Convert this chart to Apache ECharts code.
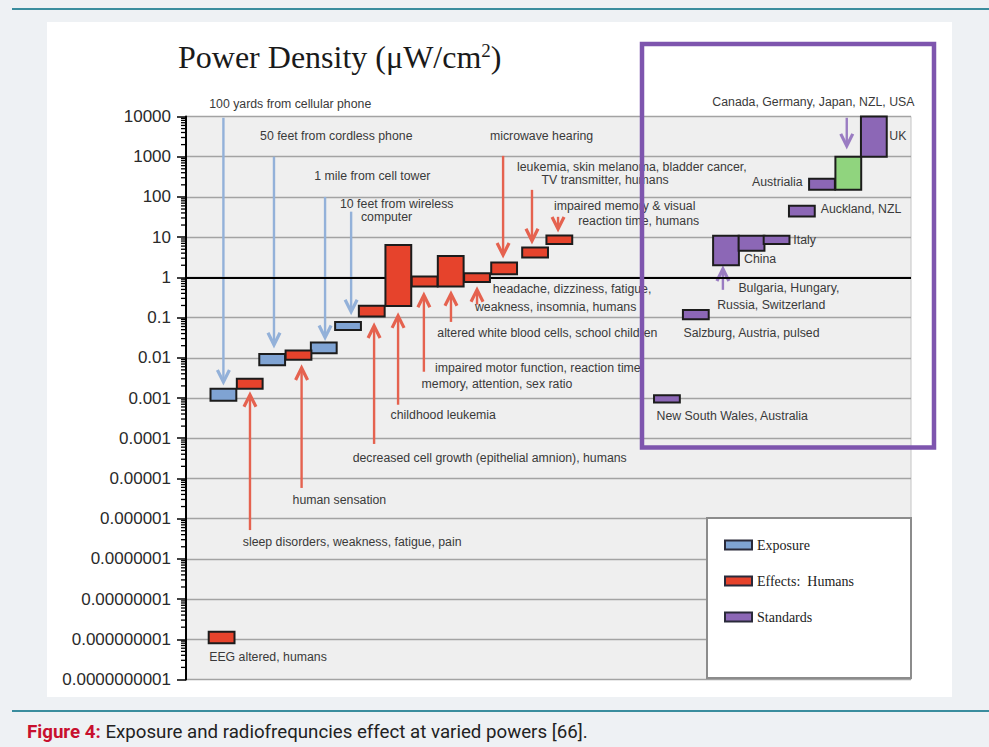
<!DOCTYPE html>
<html><head><meta charset="utf-8">
<script src="https://cdn.jsdelivr.net/npm/echarts@6/dist/echarts.min.js"></script>
<style>
html,body{margin:0;padding:0;background:#eef1f4;width:989px;height:747px;overflow:hidden;}
#rule1{position:absolute;left:12px;top:8px;width:977px;height:2px;background:#3a8d9e;}
#rule2{position:absolute;left:12px;top:710px;width:977px;height:2px;background:#3a8d9e;}
#chart{position:absolute;left:47px;top:22px;width:905px;height:675px;background:#fff;}
#cap{position:absolute;left:27px;top:721px;font:18.7px Roboto,"Liberation Sans",sans-serif;color:#222;white-space:nowrap;}
#cap b{color:#c8102e;}
</style></head><body>
<div id="rule1"></div><div id="chart"></div><div id="rule2"></div>
<div id="cap"><b>Figure 4:</b> Exposure and radiofrequncies effect at varied powers [66].</div>
<script>
// ---- data ----
const yTickLabels = ['0.0000000001','0.000000001','0.00000001','0.0000001','0.000001','0.00001','0.0001','0.001','0.01','0.1','1','10','100','1000','10000'];

const exposureNames = ['100 yards from cellular phone','50 feet from cordless phone','1 mile from cell tower','10 feet from wireless computer'];
const exposureX    = [1.45, 3.34, 5.34, 6.28];
const exposureLow  = [0.00085, 0.0065, 0.013, 0.049];
const exposureHigh = [0.0017, 0.0125, 0.024, 0.078];

const effectsNames = ['EEG altered','sleep disorders','human sensation','decreased cell growth','childhood leukemia','impaired motor function','altered white blood cells','headache, dizziness','microwave hearing','leukemia, skin melanoma','impaired memory'];
const effectsX    = [1.38, 2.47, 4.36, 7.20, 8.23, 9.25, 10.26, 11.28, 12.33, 13.53, 14.47];
const effectsLow  = [8e-10, 0.0017, 0.009, 0.106, 0.195, 0.59, 0.59, 0.77, 1.2, 3.1, 6.8];
const effectsHigh = [1.55e-9, 0.003, 0.0151, 0.198, 6.4, 1.05, 3.4, 1.27, 2.33, 5.5, 11];

const standardsNames = ['New South Wales, Australia','Salzburg, Austria','Bulgaria, Hungary, Russia, Switzerland','China','Italy','Auckland, NZL','Austrialia','Canada, Germany, Japan, NZL, USA','UK'];
const standardsX    = [18.64, 19.76, 20.93, 21.92, 22.89, 23.87, 24.65, 25.67, 26.66];
const standardsLow  = [0.00077, 0.091, 2.0, 4.6, 6.8, 32.5, 150, 150, 1000];
const standardsHigh = [0.00117, 0.155, 10.8, 10.8, 10.8, 60, 283, 1000, 10000];
const highlightIndex = 7; // green box

// annotations (text, x position on hidden axis, y value, alignment)
const noteText = ['100 yards from cellular phone','50 feet from cordless phone','1 mile from cell tower','10 feet from wireless','computer',
  'sleep disorders, weakness, fatigue, pain','human sensation','decreased cell growth (epithelial amnion), humans','childhood leukemia',
  'impaired motor function, reaction time','memory, attention, sex ratio','altered white blood cells, school children',
  'headache, dizziness, fatigue,','weakness, insomnia, humans','microwave hearing','leukemia, skin melanoma, bladder cancer,','TV transmitter, humans',
  'impaired memory & visual','reaction time, humans','EEG altered, humans',
  'Canada, Germany, Japan, NZL, USA','UK','Austrialia','Auckland, NZL','Italy','China','Bulgaria, Hungary,','Russia, Switzerland',
  'Salzburg, Austria, pulsed','New South Wales, Australia'];
const noteX = [0.9, 2.87, 4.97, 5.97, 6.78,
  2.2, 4.13, 6.46, 7.93,
  9.65, 9.13, 9.74,
  11.89, 11.2, 11.78, 12.83, 13.78,
  14.26, 15.2, 0.9,
  20.4, 27.26, 23.9, 24.6, 23.54, 21.63, 21.41, 20.59,
  19.28, 18.24];
const noteY = [2.1e4, 3300, 330, 67, 32,
  2.7e-7, 2.9e-6, 3.2e-5, 3.8e-4,
  5.5e-3, 2.24e-3, 0.041,
  0.51, 0.187, 3300, 570, 268,
  58, 25.5, 3.6e-10,
  2.3e4, 3200, 240, 50, 8.5, 2.8, 0.54, 0.21,
  0.041, 3.5e-4];
const noteAlign = noteText.map(t => t === 'Austrialia' ? 'right' : 'left');

// arrows (x, from value, to value, kind: 0 exposure, 1 effects, 2 standards)
const arrowX    = [1.45, 3.41, 5.39, 6.4, 2.48, 4.48, 7.29, 8.22, 9.22, 10.27, 11.28, 12.29, 13.41, 14.42, 25.61, 20.81];
const arrowFrom = [9300, 1000, 100, 43, 5.2e-7, 5.8e-6, 7.2e-5, 6.8e-4, 4.5e-3, 0.078, 0.21, 1050, 150, 32, 9300, 0.49];
const arrowTo   = [2.5e-3, 0.021, 0.032, 0.14, 1.2e-3, 5.6e-3, 0.062, 0.11, 0.36, 0.39, 0.49, 3.6, 8.1, 16, 1860, 1.62];
const arrowKind = [0,0,0,0,1,1,1,1,1,1,1,1,1,1,2,2];

// ---- styles ----
const C_BLUE = '#7fa3d3', C_RED = '#e6432c', C_PURPLE = '#8c67b6', C_GREEN = '#90d47e';
const ARROW_COLORS = ['#93b1d9', '#e5624f', '#9a7cc2'];
const SANS = '"Liberation Sans", Arial, sans-serif';
const SERIF = '"Liberation Serif", "Times New Roman", serif';

function renderBox(params, api) {
  const c = api.value(0), lo = api.value(1), hi = api.value(2);
  const a = api.coord([c - 0.5, hi]), b = api.coord([c + 0.5, lo]);
  return { type: 'rect', shape: { x: a[0], y: a[1], width: b[0] - a[0], height: b[1] - a[1] },
    style: { fill: api.visual('color'), stroke: '#1c1c1c', lineWidth: 2 } };
}
function renderArrow(params, api) {
  const x = api.value(0);
  const p0 = api.coord([x, api.value(1)]), p1 = api.coord([x, api.value(2)]);
  const dir = p1[1] > p0[1] ? 1 : -1;
  const color = ARROW_COLORS[arrowKind[params.dataIndex]];
  const h = 12, w = 6;
  return { type: 'group', children: [
    { type: 'line', shape: { x1: p0[0], y1: p0[1], x2: p1[0], y2: p1[1] - dir * 2 }, style: { stroke: color, lineWidth: 2.4 } },
    { type: 'polyline', shape: { points: [[p1[0] - w, p1[1] - dir * h], [p1[0], p1[1]], [p1[0] + w, p1[1] - dir * h]] },
      style: { stroke: color, lineWidth: 3.2, fill: null } }
  ] };
}
function renderNote(params, api) {
  const p = api.coord([api.value(0), api.value(1)]);
  return { type: 'text', x: p[0], y: p[1], style: { text: noteText[params.dataIndex], fill: '#3a3a3a',
    font: '12.3px ' + SANS, align: noteAlign[params.dataIndex], verticalAlign: 'middle' } };
}
// log-spaced minor ticks (2..9 within each decade)
const minorTicks = [];
for (let k = -10; k < 4; k++) for (let m = 2; m <= 9; m++) minorTicks.push([0, m * Math.pow(10, k)]);
function renderMinor(params, api) {
  const p = api.coord([api.value(0), api.value(1)]);
  return { type: 'line', shape: { x1: p[0] - 5, y1: p[1], x2: p[0], y2: p[1] }, style: { stroke: '#000', lineWidth: 1.3 } };
}

const chart = echarts.init(document.getElementById('chart'), null, { renderer: 'svg' });
chart.setOption({
  animation: false,
  backgroundColor: '#fff',
  title: {
    text: 'Power Density (μW/cm{s|2})', left: 131, top: 19, padding: 0,
    textStyle: { fontFamily: SERIF, fontSize: 32, fontWeight: 'normal', color: '#1a1a1a',
      rich: { s: { fontFamily: SERIF, fontSize: 19, color: '#1a1a1a', verticalAlign: 'top', lineHeight: 19 } } }
  },
  grid: { left: 139, right: 41, top: 94.5, bottom: 17.5, show: true, backgroundColor: '#efefef', borderColor: '#c4c4c4', borderWidth: 1 },
  xAxis: { type: 'value', min: 0, max: 28.1, show: false },
  yAxis: {
    type: 'log', logBase: 10, min: 1e-10, max: 1e4, interval: 1, splitNumber: 14,
    axisLine: { show: true, lineStyle: { color: '#000', width: 2 } },
    axisTick: { show: true, length: 9, lineStyle: { color: '#000', width: 1.5 } },
    axisLabel: { fontFamily: SANS, fontSize: 17, color: '#2a2a2a', margin: 15,
      formatter: v => yTickLabels[Math.round(Math.log10(v)) + 10] },
    splitLine: { show: true, lineStyle: { color: '#a3a3a3', width: 1.4 } }
  },
  legend: {
    orient: 'vertical', left: 672, top: 510, itemWidth: 27, itemHeight: 9, itemGap: 20, icon: 'rect', z: 20,
    selectedMode: false, data: ['Exposure', 'Effects:  Humans', 'Standards'],
    textStyle: { fontFamily: SERIF, fontSize: 14, color: '#222', lineHeight: 16 },
    itemStyle: { borderColor: '#2a2a3a', borderWidth: 2 }
  },
  graphic: [
    { type: 'rect', z: 10, shape: { x: 660, y: 496, width: 204, height: 160 }, style: { fill: '#fff', stroke: '#8c8c8c', lineWidth: 2 } },
    { type: 'rect', z: 100, shape: { x: 595, y: 22, width: 292, height: 403.5 }, style: { fill: 'none', stroke: '#7e55ae', lineWidth: 4.5 } }
  ],
  series: [
    { type: 'line', data: [], z: 1, silent: true,
      markLine: { silent: true, symbol: 'none', label: { show: false }, lineStyle: { color: '#000', width: 2, type: 'solid' }, data: [{ yAxis: 1 }] } },
    { type: 'custom', name: 'minor', silent: true, z: 3, renderItem: renderMinor, data: minorTicks },
    { type: 'custom', name: 'arrows', silent: true, z: 4, renderItem: renderArrow,
      data: arrowX.map((x, i) => [x, arrowFrom[i], arrowTo[i]]) },
    { type: 'custom', name: 'Exposure', z: 5, renderItem: renderBox, itemStyle: { color: C_BLUE },
      data: exposureX.map((x, i) => ({ name: exposureNames[i], value: [x, exposureLow[i], exposureHigh[i]] })) },
    { type: 'custom', name: 'Effects:  Humans', z: 5, renderItem: renderBox, itemStyle: { color: C_RED },
      data: effectsX.map((x, i) => ({ name: effectsNames[i], value: [x, effectsLow[i], effectsHigh[i]] })) },
    { type: 'custom', name: 'Standards', z: 5, renderItem: renderBox, itemStyle: { color: C_PURPLE },
      data: standardsX.map((x, i) => ({ name: standardsNames[i], value: [x, standardsLow[i], standardsHigh[i]],
        itemStyle: i === highlightIndex ? { color: C_GREEN } : undefined })) },
    { type: 'custom', name: 'notes', silent: true, z: 6, renderItem: renderNote,
      data: noteX.map((x, i) => [x, noteY[i]]) }
  ]
});
</script>
</body></html>
